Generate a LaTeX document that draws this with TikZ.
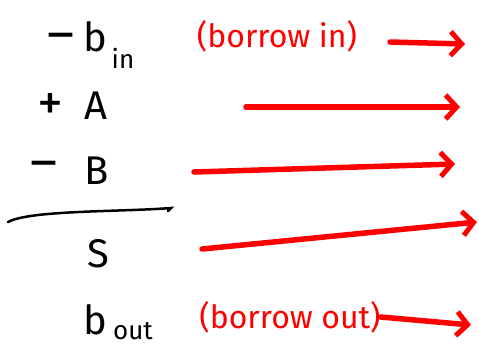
\documentclass[tikz,border=0pt]{standalone}
\usepackage{fontspec}
\setmainfont{Fira Sans}
\usetikzlibrary{arrows.meta}
\definecolor{pen}{RGB}{255,0,0}
\tikzset{
  term/.style={font=\fontsize{40}{44}\selectfont, inner sep=0pt, text=black},
  sign/.style={font=\fontsize{52}{56}\selectfont, inner sep=0pt, text=black},
  sub/.style={font=\fontsize{26}{30}\selectfont, inner sep=0pt, text=black},
  note/.style={font=\fontsize{32}{35}\selectfont, inner sep=0pt, text=pen},
  redarrow/.style={draw=pen, line width=5.5pt, line cap=round,
    -{Straight Barb[length=11pt,width=24pt,line width=5pt]}},
}
\begin{document}
\begin{tikzpicture}[x=1pt,y=-1pt]
\useasboundingbox (0,0) rectangle (479,360);
% left column
\node[sign] (m1) at (61,42) {–};
\node[term] (bin) at (95,37) {b};
\node[sub] (in) at (123,58) {in};
\node[sign] (plus) at (50,107) {+};
\node[term] (A) at (96,106) {A};
\node[sign] (m2) at (44,170) {–};
\node[term] (B) at (97,171) {B};
\coordinate (barL) at (8,222);
\coordinate (barR) at (171,208);
\draw[line width=2.5pt, line cap=round] (barL) .. controls (30,210) and (120,212) .. (barR) -- (168,211);
\node[term] (S) at (98,254) {S};
\node[term] (bout) at (95,320) {b};
\node[sub] (out) at (133,331) {out};
% red notes
\node[note] (bi) at (277,36) {(borrow in)};
\node[note] (bo) at (290,317) {(borrow out)};
% arrows
\coordinate (a1s) at (390,42); \coordinate (a1e) at (465,44);
\coordinate (a2s) at (246,107); \coordinate (a2e) at (460,107);
\coordinate (a3s) at (194,172); \coordinate (a3e) at (455,164);
\coordinate (a4s) at (202,249); \coordinate (a4e) at (477,222);
\coordinate (a5e) at (471,325);
\draw[redarrow] (a1s) -- (a1e);
\draw[redarrow] (a2s) -- (a2e);
\draw[redarrow] (a3s) -- (a3e);
\draw[redarrow] (a4s) -- (a4e);
\draw[redarrow] (bo.east) -- (a5e);
\end{tikzpicture}
\end{document}
